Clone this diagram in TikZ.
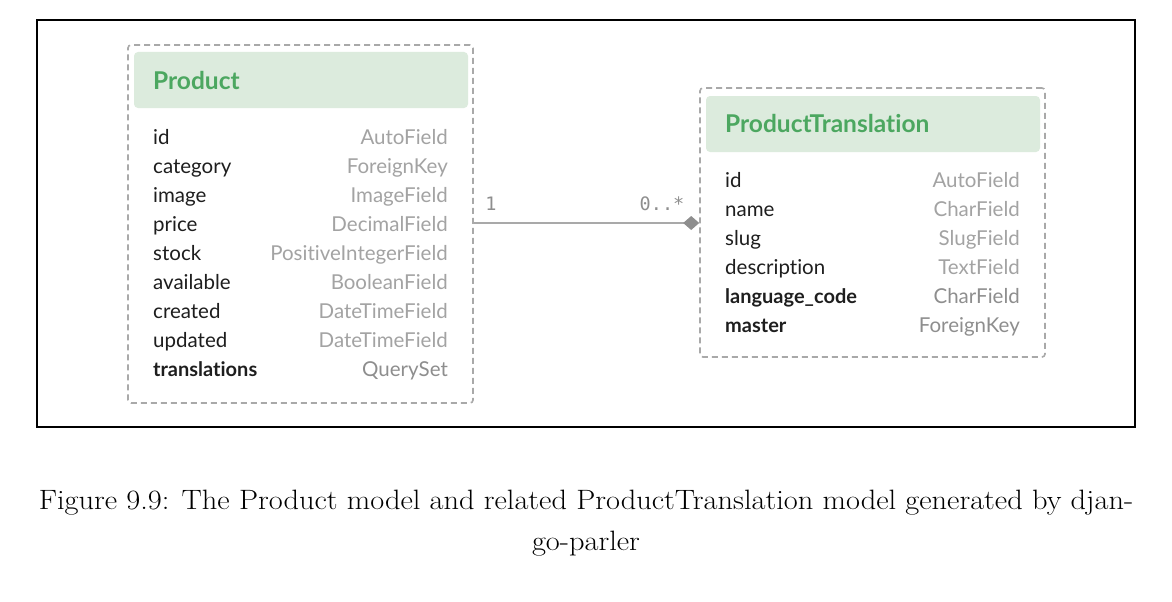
\documentclass[tikz,border=0pt]{standalone}
\usepackage{fontspec}
\usetikzlibrary{arrows.meta}
\newfontfamily\uisans[Ligatures=NoCommon]{Lato}
\newfontfamily\uimono{DejaVu Sans Mono}
\definecolor{hdrfill}{HTML}{DCEBDD}
\definecolor{hdrtext}{HTML}{4CA760}
\definecolor{dashgray}{HTML}{A9A9A9}
\definecolor{typegray}{HTML}{A3A3A3}
\definecolor{typegraydk}{HTML}{8E8E8E}
\definecolor{fieldtext}{HTML}{1E1E1E}
\begin{document}
\begin{tikzpicture}[x=1pt,y=-1pt,
  dbox/.style={draw=dashgray, dash pattern=on 6pt off 4pt, line width=1.6pt, rounded corners=3pt, inner sep=0pt},
  hdr/.style={fill=hdrfill, rounded corners=4pt, inner sep=0pt},
  title/.style={font=\uisans\bfseries\fontsize{24.5}{28}\selectfont, text=hdrtext, anchor=base west, inner sep=0pt},
  fname/.style={font=\uisans\fontsize{20.5}{24}\selectfont, text=fieldtext, anchor=base west, inner sep=0pt},
  fbold/.style={font=\uisans\bfseries\fontsize{20}{24}\selectfont, text=fieldtext, anchor=base west, inner sep=0pt},
  ftype/.style={font=\uisans\fontsize{20.5}{24}\selectfont, text=typegray, anchor=base east, inner sep=0pt},
  ftypedk/.style={font=\uisans\fontsize{20.5}{24}\selectfont, text=typegraydk, anchor=base east, inner sep=0pt},
  mult/.style={font=\uimono\fontsize{18.5}{22}\selectfont, text=typegraydk, anchor=base, inner sep=0pt},
  conn/.style={draw=dashgray, line width=1.6pt},
  captext/.style={font=\fontsize{28}{32}\selectfont, anchor=base, inner sep=0pt}
]
\useasboundingbox (0,0) rectangle (1172,602);
\fill[white] (0,0) rectangle (1172,602);
\node[draw=black, line width=1.8pt, minimum width=1098pt, minimum height=407pt, inner sep=0pt] (frame) at (586,223.5) {};

% Product
\node[dbox, minimum width=345pt, minimum height=358pt] (prod) at (300.5,224) {};
\node[hdr, minimum width=334pt, minimum height=56pt] (prodh) at (301,80) {};
\node[title] (prodt) at (153,89) {Product};
\foreach \n/\t/\y/\s/\ts [count=\i] in {id/AutoField/144/fname/ftype, category/ForeignKey/173/fname/ftype, image/ImageField/202/fname/ftype, price/DecimalField/231/fname/ftype, stock/PositiveIntegerField/260/fname/ftype, available/BooleanField/289/fname/ftype, created/DateTimeField/318/fname/ftype, updated/DateTimeField/347/fname/ftype, translations/QuerySet/376/fbold/ftypedk}{
  \node[\s] (pf\i) at (153,\y) {\n};
  \node[\ts] (pt\i) at (448,\y) {\t};
}

% ProductTranslation
\node[dbox, minimum width=345pt, minimum height=269pt] (trans) at (872.5,222.5) {};
\node[hdr, minimum width=334pt, minimum height=56pt] (transh) at (873,124) {};
\node[title] (transt) at (725,132) {ProductTranslation};
\foreach \n/\t/\y/\s/\ts [count=\i] in {id/AutoField/187/fname/ftype, name/CharField/216/fname/ftype, slug/SlugField/245/fname/ftype, description/TextField/274/fname/ftype, language\_code/CharField/303/fbold/ftypedk, master/ForeignKey/332/fbold/ftypedk}{
  \node[\s] (tf\i) at (725,\y) {\n};
  \node[\ts] (tt\i) at (1020,\y) {\t};
}

% connector
\draw[conn, -{Diamond[length=16pt,width=14pt,fill=typegraydk,color=typegraydk]}] (prod.east |- 0,223) -- (trans.west |- 0,223);
\node[mult] (m1) at (491,210) {1};
\node[mult] (m2) at (662,210) {0..*};

% caption
\node[captext] (cap1) at (586,509) {\scalebox{1.085}[1]{Figure 9.9: The Product model and related ProductTranslation model generated by djan-}};
\node[captext] (cap2) at (586,550) {\scalebox{1.085}[1]{go-parler}};
\end{tikzpicture}
\end{document}
